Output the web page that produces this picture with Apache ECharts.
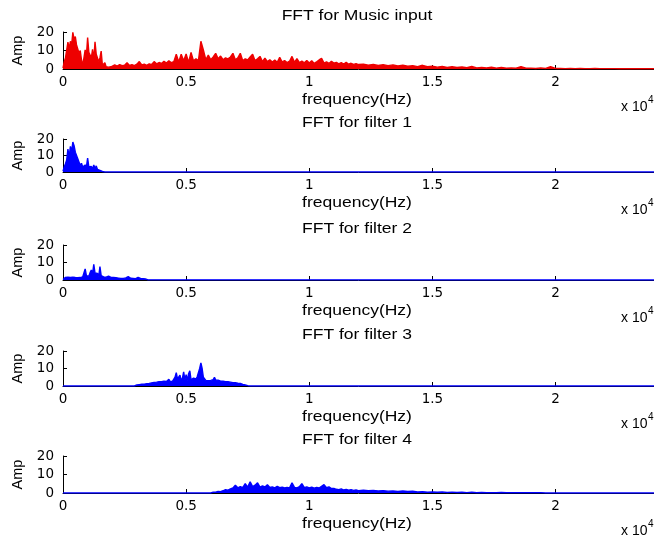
<!DOCTYPE html>
<html><head><meta charset="utf-8">
<script src="https://cdn.jsdelivr.net/npm/echarts@6/dist/echarts.min.js"></script>
<style>html,body{margin:0;padding:0;background:#fff}#c{width:654px;height:539px}</style>
</head><body><div id="c"></div>
<script>
// ---------- DATA ----------
const plotTitles = ['FFT for Music input', 'FFT for filter 1', 'FFT for filter 2', 'FFT for filter 3', 'FFT for filter 4'];
const xAxisTitle = 'frequency(Hz)';
const yAxisTitle = 'Amp';
const xTickValues = [0, 5000, 10000, 15000, 20000];
const xTickLabels = ['0', '0.5', '1', '1.5', '2'];
const xExponent = '4';

// Music input: 0..2000 Hz step 50
const musicLowAmp = [0.5,4,6,5,14.5,11,15,13,19.8,16,
  17.5,13,12,8.5,10,5,2,6,10.3,7,
  17,9,10,6,10.6,5,14.7,8,7.6,4,
  6,9.7,2,1.5,3.4,1.2,1.8,1.0,1.6,1.2,
  1.8];
// Music input: 2100..12000 Hz step 100
const musicMidAmp = [2.2,1.6,2.4,1.8,2.0,3.4,1.9,2.3,1.8,2.6,
  4.0,2.2,2.6,2.0,2.8,2.4,4.0,2.8,3.5,3.0,
  4.2,3.2,4.5,3.4,4.0,8.0,3.8,8.0,4.5,8.1,
  3.5,9.0,4.4,5.5,4.5,15.0,10.3,5.0,7.5,5.0,
  6.5,8.5,5.5,7.0,5.0,6.0,5.5,6.5,8.5,5.0,
  6.0,8.5,4.5,5.5,4.9,6.5,8.0,4.5,5.5,6.8,
  4.0,5.9,4.0,5.0,3.8,4.8,3.6,6.3,3.8,4.5,
  3.5,4.2,6.8,3.6,5.6,3.5,4.3,3.4,4.6,3.2,
  4.5,3.0,3.9,4.9,5.8,3.2,3.8,3.0,4.2,3.2,
  3.6,2.8,3.4,2.7,3.6,2.6,3.1,2.5,2.9,2.4];
// Music input: 12200..24000 Hz step 200
const musicHighAmp = [2.6,2.0,2.5,1.9,2.3,1.8,2.2,1.6,2.0,1.5,
  1.8,1.3,2.0,1.2,1.5,1.0,1.4,0.9,1.2,0.8,
  1.1,0.7,1.4,0.6,0.9,0.6,1.0,0.5,0.8,0.5,
  0.6,0.4,1.3,0.4,0.5,0.3,0.6,0.3,1.2,0.3,
  0.3,0.2,0.3,0.2,0.3,0.2,0.2,0.3,0.2,0.2,
  0.2,0.2,0.1,0.2,0.1,0.2,0.1,0.1,0.1,0.1];

// Filter 1: 0..1700 Hz step 50
const filter1Amp = [0.5,3,5,7.3,13.9,9,15.5,12.4,18.2,16,
  12,11.4,8,7.3,4,5.3,3,2.5,4.3,3,
  8.4,3,4,3.3,2,4.3,2,3.7,1.5,2.2,
  1,1.6,0.3,0,0];
// Filter 2: 0..3500 Hz step 50
const filter2Amp = [0.3,1.2,1.5,1.2,1.6,1.3,1.5,1.2,1.6,2.3,
  1.4,1.6,1.3,1.7,1.4,1.5,1.8,2.8,6.3,2.5,
  3.5,2.2,4.2,5.7,3.5,8.9,4,3,3.8,2,
  7.6,2.5,1.5,1.8,1.3,1.6,1.4,2.2,1.3,1.5,
  1.2,1.4,1.1,1.3,1.0,1.1,1.9,0.9,1.1,0.9,
  1.0,1.2,0.8,1.9,0.9,1.0,1.7,0.9,1.0,0.8,
  1.0,1.5,0.8,0.9,0.7,0.8,0.7,0.6,0.4,0.1,
  0];
// Filter 3: 2900..7600 Hz step 50
const filter3Amp = [0,0.2,0.6,0.4,0.8,0.6,1.0,0.8,1.1,0.9,
  1.3,1.0,1.5,1.3,1.8,1.5,2.1,1.7,2.2,1.8,
  2.4,2.0,2.5,1.9,2.8,2.2,2.6,3.2,3.8,2.5,
  2.2,2.8,3.0,5.0,7.6,4.0,3.5,6.2,3.0,4.5,
  8.1,3.5,6.5,3.2,7.0,8.7,3.5,3.0,4.5,3.4,
  4.0,5.3,4.5,10.0,13.2,10.0,5.0,4.0,3.2,3.8,
  3.0,3.6,3.2,4.0,3.6,4.9,3.5,4.0,3.3,3.6,
  2.8,3.2,2.7,3.0,2.5,2.7,2.4,2.6,2.2,2.5,
  1.9,2.0,1.9,1.5,1.6,1.4,1.5,1.0,0.9,1.0,
  0.6,0.4,0.2,0.1,0];
// Filter 4: 6000..12000 Hz step 100
const filter4LowAmp = [0,0.5,0.4,0.9,0.7,1.2,1.8,1.5,2.2,2.7,
  4.2,2.8,3.5,2.9,5.1,3.2,6.0,3.5,4.2,5.5,
  3.2,3.8,3.3,4.5,3.0,3.3,2.8,3.6,2.9,3.2,
  2.7,3.0,2.8,5.5,3.0,2.8,3.4,5.1,2.9,3.3,
  2.8,3.2,2.6,3.0,2.7,3.6,4.5,2.9,3.3,2.4,
  2.5,2.0,1.8,2.2,1.6,1.9,1.5,1.8,1.4,1.6,
  1.3];
// Filter 4: 12200..20000 Hz step 200
const filter4HighAmp = [1.5,1.2,1.4,1.1,1.3,1.0,1.1,0.9,1.1,0.8,
  1.0,0.6,0.7,0.5,0.6,0.4,0.6,0.3,0.5,0.3,
  0.4,0.2,0.4,0.1,0.3,0.1,0.2,0.1,0.3,0.1,
  0.2,0.1,0.2,0.1,0.2,0.1,0.2,0,0,0];

const freqMax = 24000;

// ---------- BUILD ----------
function seg(start, step, amps) { return amps.map((a, i) => [start + i * step, a]); }
const seriesData = [
  seg(0, 50, musicLowAmp).concat(seg(2100, 100, musicMidAmp), seg(12200, 200, musicHighAmp)),
  seg(0, 50, filter1Amp).concat([[freqMax, 0]]),
  seg(0, 50, filter2Amp).concat([[freqMax, 0]]),
  [[0, 0]].concat(seg(2900, 50, filter3Amp), [[freqMax, 0]]),
  [[0, 0]].concat(seg(6000, 100, filter4LowAmp), seg(12200, 200, filter4HighAmp), [[freqMax, 0]])
];
const seriesColors = ['#ee0000', '#0000ff', '#0000ff', '#0000ff', '#0000ff'];

// layout
const gridLeft = 63, gridWidth = 591;
const gridTops = [32, 139, 245, 351, 456];
const gridHeights = [37, 33, 35, 35, 37];
const centerX = 357;

const grids = [], xAxes = [], yAxes = [], series = [], graphics = [];
gridTops.forEach((top, i) => {
  const bottom = top + gridHeights[i];
  grids.push({ left: gridLeft, width: gridWidth, top: top, height: gridHeights[i], containLabel: false });
  xAxes.push({
    type: 'value', gridIndex: i, min: 0, max: freqMax, interval: 5000,
    axisLine: { show: true, onZero: false, lineStyle: { color: '#000', width: 1 } },
    axisTick: { show: true, inside: true, length: 4, lineStyle: { color: '#000' } },
    axisLabel: { show: true, margin: 6, color: '#000', fontFamily: 'DejaVu Sans', fontSize: 13.5,
      showMaxLabel: false,
      formatter: v => { const k = xTickValues.indexOf(v); return k < 0 ? '' : xTickLabels[k]; } },
    splitLine: { show: false }
  });
  yAxes.push({
    type: 'value', gridIndex: i, min: 0, max: 20, interval: 10,
    name: yAxisTitle, nameLocation: 'middle', nameRotate: 90, nameGap: 37,
    nameTextStyle: { fontFamily: 'Liberation Sans', fontSize: 14.5, color: '#000' },
    axisLine: { show: true, lineStyle: { color: '#000', width: 1 } },
    axisTick: { show: true, inside: true, length: 4, lineStyle: { color: '#000' } },
    axisLabel: { show: true, margin: 9, color: '#000', fontFamily: 'DejaVu Sans', fontSize: 13.5 },
    splitLine: { show: false }
  });
  series.push({
    type: 'line', xAxisIndex: i, yAxisIndex: i, data: seriesData[i],
    showSymbol: false, symbol: 'none', smooth: false, animation: false,
    lineStyle: { color: seriesColors[i], width: 1.4 },
    areaStyle: { color: seriesColors[i], opacity: 1 },
    z: 3
  });
  graphics.push({
    type: 'text', x: centerX, y: top - 16, scaleX: 1.25, scaleY: 1,
    style: { text: plotTitles[i], font: '14px "Liberation Sans"', fill: '#000',
      textAlign: 'center', textVerticalAlign: 'middle', verticalAlign: 'middle' }
  });
  graphics.push({
    type: 'text', x: centerX, y: bottom + 31.5, scaleX: 1.25, scaleY: 1,
    style: { text: xAxisTitle, font: '14px "Liberation Sans"', fill: '#000',
      textAlign: 'center', textVerticalAlign: 'middle', verticalAlign: 'middle' }
  });
  graphics.push({
    type: 'group', x: 621, y: bottom + 38,
    children: [
      { type: 'text', x: 0, y: 0, style: { text: 'x 10', font: '14px "Liberation Sans"', fill: '#000',
        textAlign: 'left', textVerticalAlign: 'middle', verticalAlign: 'middle' } },
      { type: 'text', x: 27, y: -7, style: { text: xExponent, font: '10px "Liberation Sans"', fill: '#000',
        textAlign: 'left', textVerticalAlign: 'middle', verticalAlign: 'middle' } }
    ]
  });
});

const chart = echarts.init(document.getElementById('c'), null, { renderer: 'canvas' });
chart.setOption({
  backgroundColor: '#fff',
  animation: false,
  grid: grids, xAxis: xAxes, yAxis: yAxes, series: series,
  graphic: { elements: graphics }
});
</script></body></html>
